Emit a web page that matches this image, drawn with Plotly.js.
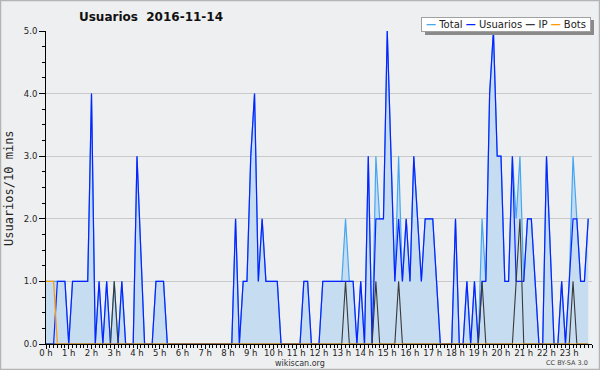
<!DOCTYPE html>
<html>
<head>
<meta charset="utf-8">
<script src="https://cdn.plot.ly/plotly-3.0.1.min.js"></script>
<style>
  html, body { margin: 0; padding: 0; background: #eeeff0; }
  #chart { width: 600px; height: 370px; }
</style>
</head>
<body>
<div id="chart"></div>
<script>
// Values per 10-minute slot, 2016-11-14 (144 slots, 12 per row = 2 hours)
const total = [
  1,1,1,1,1,1,0,1,1,1,1,1,
  4,0,1,0,1,0,1,0,1,0,0,0,
  3,1.5,0,0,0,1,1,1,0,0,0,0,
  0,0,0,0,0,0,0,0,0,0,0,0,
  0,0,2,0,1,1,3,4,1,2,1,1,
  1,1,0,0,0,0,0,0,1,1,0,0,
  0,1,1,1,1,1,1,2,1,1,0,1,
  0,3,0,3,2,2,5,3,1,3,1,2,
  1,3,2,1,2,2,2,1,0,0,0,0,
  2,0,0,1,0,1,0,2,1,4,5,3,
  3,1,1,3,2,3,1,2,2,1,0,0,
  3,1.5,0,0,1,0,1,3,2,1,1,2
];
const usuarios = [
  0,0,0,1,1,1,0,1,1,1,1,1,
  4,0,1,0,1,0,0,0,1,0,0,0,
  3,1.5,0,0,0,1,1,1,0,0,0,0,
  0,0,0,0,0,0,0,0,0,0,0,0,
  0,0,2,0,1,1,3,4,1,2,1,1,
  1,1,0,0,0,0,0,0,1,1,0,0,
  0,1,1,1,1,1,1,1,1,1,0,1,
  0,3,0,2,2,2,5,3,1,2,1,2,
  1,3,2,1,2,2,2,1,0,0,0,0,
  2,0,0,1,0,1,0,1,1,4,5,3,
  3,1,1,3,1,1,1,2,2,1,0,0,
  3,1.5,0,0,1,0,1,2,2,1,1,2
];
const ip = [
  0,0,0,0,0,0,0,0,0,0,0,0,
  0,0,0,0,0,0,1,0,0,0,0,0,
  0,0,0,0,0,0,0,0,0,0,0,0,
  0,0,0,0,0,0,0,0,0,0,0,0,
  0,0,0,0,0,0,0,0,0,0,0,0,
  0,0,0,0,0,0,0,0,0,0,0,0,
  0,0,0,0,0,0,0,1,0,0,0,0,
  0,0,0,1,0,0,0,0,0,1,0,0,
  0,0,0,0,0,0,0,0,0,0,0,0,
  0,0,0,0,0,0,0,1,0,0,0,0,
  0,0,0,0,1,2,0,0,0,0,0,0,
  0,0,0,0,0,0,0,1,0,0,0,0
];
const bots = [
  1,1,1,0,0,0,0,0,0,0,0,0,
  0,0,0,0,0,0,0,0,0,0,0,0,
  0,0,0,0,0,0,0,0,0,0,0,0,
  0,0,0,0,0,0,0,0,0,0,0,0,
  0,0,0,0,0,0,0,0,0,0,0,0,
  0,0,0,0,0,0,0,0,0,0,0,0,
  0,0,0,0,0,0,0,0,0,0,0,0,
  0,0,0,0,0,0,0,0,0,0,0,0,
  0,0,0,0,0,0,0,0,0,0,0,0,
  0,0,0,0,0,0,0,0,0,0,0,0,
  0,0,0,0,0,0,0,0,0,0,0,0,
  0,0,0,0,0,0,0,0,0,0,0,0
];
const hourTicks = [0,1,2,3,4,5,6,7,8,9,10,11,12,13,14,15,16,17,18,19,20,21,22,23];
const hourLabels = ["0 h","1 h","2 h","3 h","4 h","5 h","6 h","7 h","8 h","9 h","10 h","11 h",
                    "12 h","13 h","14 h","15 h","16 h","17 h","18 h","19 h","20 h","21 h","22 h","23 h"];
const yTicks = [0,1,2,3,4,5];
const yLabels = ["0.0","1.0","2.0","3.0","4.0","5.0"];

// slot position in hours (10-minute slots)
const slotHours = usuarios.map((_, i) => i / 6);

const FONT = "DejaVu Sans, Verdana, sans-serif";
const traces = [
  { x: slotHours, y: total, name: "Total", type: "scatter", mode: "lines",
    line: { color: "#45a6f2", width: 1.2 }, fill: "tozeroy", fillcolor: "#c6ddf1" },
  { x: slotHours, y: usuarios, name: "Usuarios", type: "scatter", mode: "lines",
    line: { color: "#0a22ff", width: 1.2 } },
  { x: slotHours, y: ip, name: "IP", type: "scatter", mode: "lines",
    line: { color: "#3a3a3a", width: 1.1 } },
  { x: slotHours, y: bots, name: "Bots", type: "scatter", mode: "lines",
    line: { color: "#ff9a00", width: 1.2 } }
];

// pixel -> paper helpers for decorations (plot area: x 46..592, y 31..344)
const L = 46, R = 8, T = 31, B = 26, W = 600, H = 370;
const pw = W - L - R, ph = H - T - B;
const px = v => (v - L) / pw;
const py = v => (H - B - v) / ph;

const dash = c => '<span style="color:' + c + '"><b>\u2014</b></span>';
const legendText = dash("#45a6f2") + "\u00a0Total\u00a0" + dash("#0a22ff") + "\u00a0Usuarios\u00a0" +
                   dash("#3a3a3a") + "\u00a0IP\u00a0" + dash("#ff9a00") + "\u00a0Bots";

const layout = {
  width: W, height: H,
  margin: { l: L, r: R, t: T, b: B, pad: 0 },
  paper_bgcolor: "#eeeff0",
  plot_bgcolor: "#eeeff0",
  showlegend: false,
  font: { family: FONT, color: "#222", size: 9 },
  title: {
    text: "<b>Usuarios\u00a0\u00a02016-11-14</b>",
    font: { family: FONT, size: 12, color: "#111" },
    xref: "container", yref: "container",
    x: 151 / W, xanchor: "center", y: 1 - 17 / H, yanchor: "middle"
  },
  xaxis: {
    range: [0, 24], fixedrange: true,
    showgrid: false, zeroline: false,
    showline: true, linecolor: "#000", linewidth: 1,
    tickmode: "array", tickvals: hourTicks, ticktext: hourLabels,
    ticks: "outside", ticklen: 4, tickcolor: "#000", tickwidth: 1,
    ticklabelstandoff: -3,
    tickfont: { family: FONT, size: 8.5, color: "#222" },
    minor: { dtick: 1 / 6, tick0: 0, ticks: "outside", ticklen: 3, tickcolor: "#000", tickwidth: 1, showgrid: false }
  },
  yaxis: {
    range: [0, 5], fixedrange: true,
    zeroline: false, showline: true, linecolor: "#000", linewidth: 1,
    tickmode: "array", tickvals: yTicks, ticktext: yLabels,
    ticks: "outside", ticklen: 6, tickcolor: "#000", tickwidth: 1,
    tickfont: { family: FONT, size: 8.5, color: "#222" },
    showgrid: true, gridcolor: "#c9c9c9", gridwidth: 1,
    minor: { dtick: 0.25, tick0: 0, ticks: "outside", ticklen: 3, tickcolor: "#000", tickwidth: 1, showgrid: false }
  },
  shapes: [
    // outer frame
    { type: "rect", xref: "paper", yref: "paper", x0: px(0.5), x1: px(599.5), y0: py(369.5), y1: py(0.5),
      line: { color: "#b4b4b4", width: 1.5 }, fillcolor: "rgba(0,0,0,0)" },
    // legend shadow
    { type: "rect", xref: "paper", yref: "paper", x0: px(425), x1: px(594), y0: py(35), y1: py(20),
      line: { width: 0 }, fillcolor: "#8a8a8a", layer: "above" }
  ],
  annotations: [
    { text: legendText, xref: "paper", yref: "paper", x: px(591), y: py(17), xanchor: "right", yanchor: "top",
      showarrow: false, bgcolor: "#ffffff", bordercolor: "#a0a0a0", borderwidth: 1, borderpad: 1,
      width: 166, height: 11, align: "center",
      font: { family: FONT, size: 10, color: "#222" } },
    { text: "Usuarios/10 mins", xref: "paper", yref: "paper", x: px(9), y: py(188), textangle: -90,
      xanchor: "center", yanchor: "middle", showarrow: false,
      font: { family: "DejaVu Sans Mono, monospace", size: 12, color: "#222" } },
    { text: "wikiscan.org", xref: "paper", yref: "paper", x: px(300), y: py(363),
      xanchor: "center", yanchor: "middle", showarrow: false,
      font: { family: FONT, size: 8, color: "#333" } },
    { text: "CC BY-SA 3.0", xref: "paper", yref: "paper", x: px(590), y: py(363),
      xanchor: "right", yanchor: "middle", showarrow: false,
      font: { family: FONT, size: 6.5, color: "#444" } }
  ]
};

Plotly.newPlot("chart", traces, layout, { staticPlot: true, displayModeBar: false });
</script>
</body>
</html>
